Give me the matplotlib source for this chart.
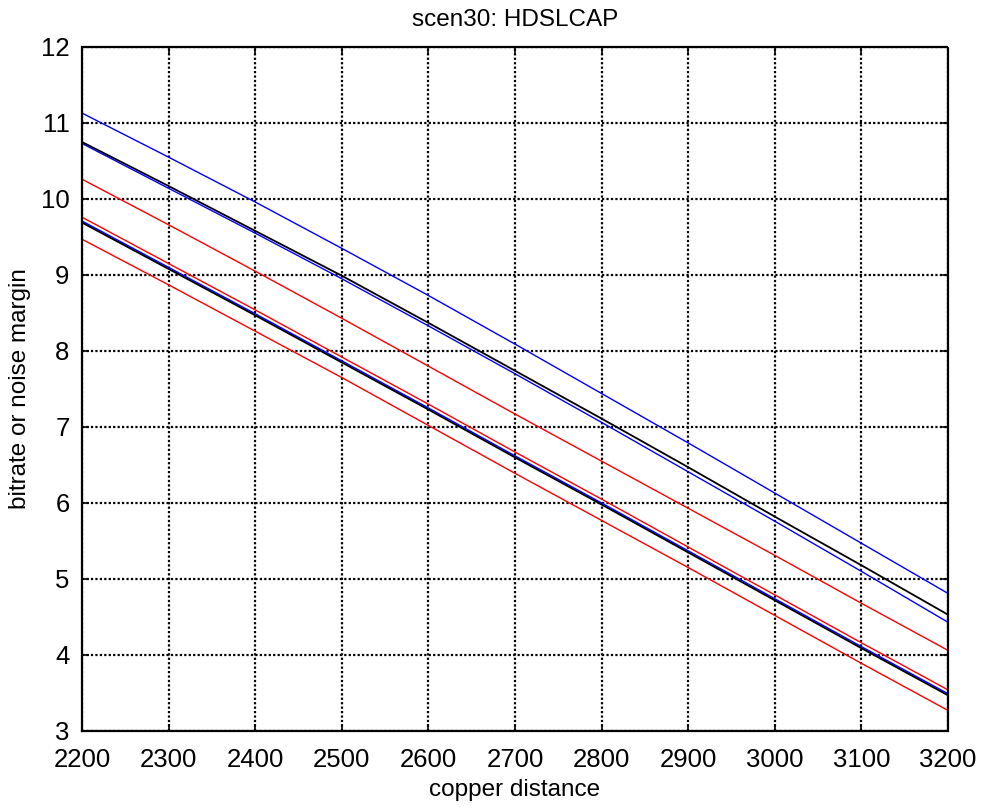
import numpy as np
import matplotlib as mlt
mlt.use('Agg')
from matplotlib import pyplot as plt

plt.rcParams['font.family'] = ['Liberation Sans', 'DejaVu Sans']

# copper distance grid
distance = [2200, 2300, 2400, 2500, 2600, 2700, 2800, 2900, 3000, 3100, 3200]

# bitrate / noise margin curves
blue_top = [11.13, 10.55, 9.96, 9.35, 8.73, 8.09, 7.44, 6.79, 6.13, 5.47, 4.81]
black_top = [10.75, 10.17, 9.58, 8.99, 8.37, 7.74, 7.11, 6.47, 5.82, 5.18, 4.53]
blue_mid = [10.73, 10.14, 9.55, 8.95, 8.33, 7.70, 7.06, 6.41, 5.76, 5.10, 4.43]
red_top = [10.26, 9.66, 9.05, 8.43, 7.80, 7.17, 6.55, 5.93, 5.31, 4.68, 4.06]
red_mid = [9.76, 9.15, 8.54, 7.92, 7.30, 6.67, 6.05, 5.42, 4.79, 4.16, 3.54]
blue_low = [9.71, 9.10, 8.49, 7.87, 7.25, 6.62, 6.00, 5.37, 4.74, 4.11, 3.49]
black_low = [9.69, 9.08, 8.47, 7.85, 7.23, 6.60, 5.98, 5.35, 4.72, 4.09, 3.47]
red_low = [9.47, 8.87, 8.26, 7.65, 7.02, 6.39, 5.77, 5.15, 4.52, 3.89, 3.27]

fig = plt.figure(figsize=(9.81, 8.07), dpi=100)
ax = fig.add_axes([0.0836, 0.0942, 0.8828, 0.8476])

lw = 1.0
ax.plot(distance, black_low, color='k', linewidth=1.4)
ax.plot(distance, blue_low, color='b', linewidth=lw)
ax.plot(distance, red_low, color='r', linewidth=lw)
ax.plot(distance, red_mid, color='r', linewidth=lw)
ax.plot(distance, red_top, color='r', linewidth=lw)
ax.plot(distance, blue_mid, color='b', linewidth=lw)
ax.plot(distance, black_top, color='k', linewidth=1.3)
ax.plot(distance, blue_top, color='b', linewidth=lw)

ax.set_xlim(2200, 3200)
ax.set_ylim(3, 12)
ax.set_xticks(np.arange(2200, 3201, 100))
ax.set_yticks(np.arange(3, 13, 1))

ax.grid(True, color='k', linestyle=(0, (1, 1)), linewidth=1.6)
for s in ax.spines.values():
    s.set_linewidth(1.6)
    s.set_linestyle((0, (1, 1)))

ax.tick_params(direction='in', top=True, right=True, length=5, width=1.2,
               labelsize=18.5, pad=9)
ax.tick_params(axis='x', pad=12)

ax.set_title('scen30: HDSLCAP', fontsize=17.5, pad=15)
ax.set_xlabel('copper distance', fontsize=17.5, labelpad=5)
ax.set_ylabel('bitrate or noise margin', fontsize=17.5, labelpad=7)

fig.savefig('out.png', dpi=100)
